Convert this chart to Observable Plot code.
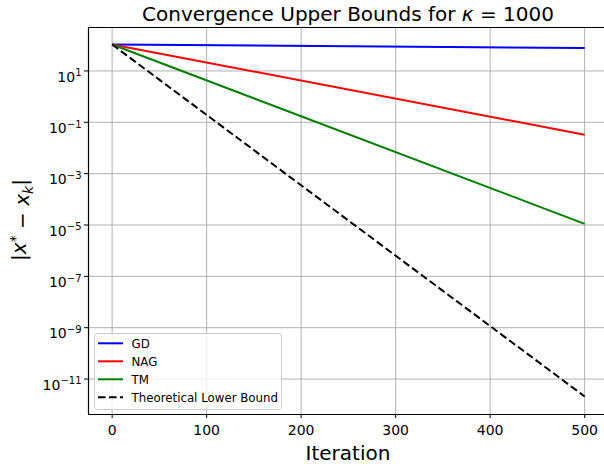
<!DOCTYPE html>
<html>
<head>
<meta charset="utf-8">
<script src="https://cdn.jsdelivr.net/npm/d3@7"></script>
<script src="https://cdn.jsdelivr.net/npm/@observablehq/plot@0.6"></script>
<style>
  html, body { margin: 0; padding: 0; background: white; }
  #chart { width: 604px; height: 466px; }
  svg { font-family: "DejaVu Sans", sans-serif; }
</style>
</head>
<body>
<div id="chart"></div>
<script>
// ---- data ----
const iterations = [0, 500];
const seriesNames = ["GD", "NAG", "TM", "Theoretical Lower Bound"];
const gdValues = [107, 78.9];
const nagValues = [107, 0.033];
const tmValues = [107, 1.11e-5];
const lowerValues = [107, 2.1e-12];
const xTicks = [0, 100, 200, 300, 400, 500];
const yTickExponents = [1, -1, -3, -5, -7, -9, -11];
const titleText = "Convergence Upper Bounds for ";
const xLabel = "Iteration";

const yTicks = yTickExponents.map(e => Math.pow(10, e));
const toRows = (vals, name) => iterations.map((it, i) => ({iteration: it, value: vals[i], series: name}));
const gdRows = toRows(gdValues, seriesNames[0]);
const nagRows = toRows(nagValues, seriesNames[1]);
const tmRows = toRows(tmValues, seriesNames[2]);
const lowerRows = toRows(lowerValues, seriesNames[3]);

const styles = [
  {stroke: "#0000ff", dash: null},
  {stroke: "#ff0000", dash: null},
  {stroke: "#008000", dash: null},
  {stroke: "#000000", dash: "7.5,3.5"}
];

const xDomain = [-25, 521];
const yDomain = [4.16e-13, 493];
const gridStyle = {stroke: "#b0b0b0", strokeOpacity: 1, strokeWidth: 1};
const lineOpts = {x: "iteration", y: "value", strokeWidth: 2, strokeLinecap: "butt"};

const chart = Plot.plot({
  width: 604,
  height: 466,
  marginLeft: 88,
  marginRight: 0,
  marginTop: 27,
  marginBottom: 52,
  style: {fontFamily: "DejaVu Sans", fontSize: "14px", color: "black", background: "white", overflow: "visible"},
  x: {domain: xDomain, label: null},
  y: {type: "log", domain: yDomain, label: null},
  marks: [
    Plot.gridX(xTicks, gridStyle),
    Plot.gridY(yTicks, gridStyle),
    Plot.line(gdRows, {...lineOpts, stroke: styles[0].stroke}),
    Plot.line(nagRows, {...lineOpts, stroke: styles[1].stroke}),
    Plot.line(tmRows, {...lineOpts, stroke: styles[2].stroke}),
    Plot.line(lowerRows, {...lineOpts, stroke: styles[3].stroke, strokeDasharray: styles[3].dash}),
    Plot.axisX(xTicks, {tickSize: 4, tickPadding: 7, fontSize: 14, tickFormat: d => String(d), label: null}),
    Plot.axisY(yTicks, {tickSize: 4, tickPadding: 3, fontSize: 14, tickFormat: d => String(Math.round(Math.log10(d))), label: null}),
    Plot.ruleX([xDomain[0]], {stroke: "black", strokeWidth: 1.2}),
    Plot.ruleY([yDomain[0], yDomain[1]], {stroke: "black", strokeWidth: 1.2})
  ]
});

document.getElementById("chart").appendChild(chart);
const svg = d3.select(chart);

// superscript y tick labels
svg.selectAll('[aria-label="y-axis tick label"] text').each(function() {
  const t = d3.select(this);
  const e = +t.text();
  t.text(null);
  t.attr("dy", "0.45em");
  t.append("tspan").text("10");
  t.append("tspan").attr("dy", "-0.55em").attr("font-size", "10px").text(e < 0 ? "\u2212" + (-e) : String(e));
});

// title
const title = svg.append("text")
  .attr("x", 348).attr("y", 21)
  .attr("text-anchor", "middle")
  .attr("font-size", "20px")
  .attr("fill", "black")
  .attr("xml:space", "preserve");
title.append("tspan").text(titleText);
title.append("tspan").attr("font-style", "italic").text("\u03ba");
title.append("tspan").text(" = 1000");

// x label
svg.append("text")
  .attr("x", 348).attr("y", 460)
  .attr("text-anchor", "middle")
  .attr("font-size", "20px")
  .attr("fill", "black")
  .text(xLabel);

// y label
const yl = svg.append("text")
  .attr("transform", "translate(26,220) rotate(-90)")
  .attr("text-anchor", "middle")
  .attr("font-size", "20px")
  .attr("fill", "black");
yl.append("tspan").text("|");
yl.append("tspan").attr("font-style", "italic").text("x");
yl.append("tspan").attr("dy", "-0.45em").attr("font-size", "14px").text("*");
yl.append("tspan").attr("dy", "0.45em").text(" \u2212 ");
yl.append("tspan").attr("font-style", "italic").text("x");
yl.append("tspan").attr("dy", "0.3em").attr("font-size", "14px").attr("font-style", "italic").text("k");
yl.append("tspan").attr("dy", "-0.3em").text("|");

// legend
const lg = svg.append("g").attr("text-anchor", "start");
lg.append("rect")
  .attr("x", 94.5).attr("y", 333.5).attr("width", 187).attr("height", 76)
  .attr("rx", 3).attr("fill", "white").attr("fill-opacity", 0.8)
  .attr("stroke", "#cccccc").attr("stroke-width", 1);
seriesNames.forEach((name, i) => {
  const y = 343.3 + i * 18;
  lg.append("line")
    .attr("x1", 98).attr("x2", 123).attr("y1", y).attr("y2", y)
    .attr("stroke", styles[i].stroke).attr("stroke-width", 2)
    .attr("stroke-dasharray", styles[i].dash);
  lg.append("text")
    .attr("x", 131.5).attr("y", y).attr("dy", "0.36em")
    .attr("text-anchor", "start")
    .attr("font-size", "11.8px").attr("fill", "black")
    .text(name);
});
</script>
</body>
</html>
